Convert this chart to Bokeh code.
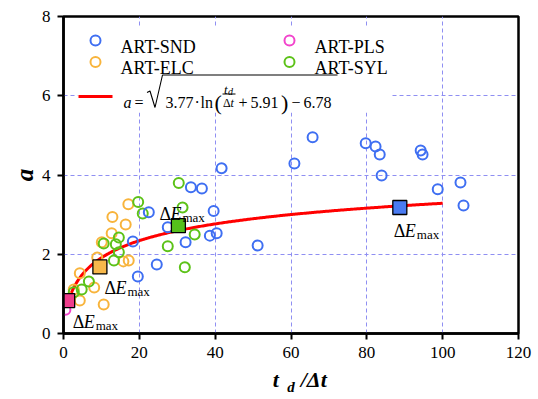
import numpy as np
from bokeh.plotting import figure
from bokeh.models import LinearAxis, FixedTicker
from bokeh.embed import file_html
from bokeh.resources import INLINE
from bokeh.core.properties import value

# ---------------- data ----------------
# ART-SND
snd_x = [65.7, 60.9, 79.7, 82.3, 83.4, 83.9, 94.2, 94.7, 98.7, 104.7, 105.5,
         41.7, 33.6, 36.5, 39.6, 38.6, 40.4, 32.2, 51.2, 22.5, 18.3, 27.5,
         24.6, 19.6]
snd_y = [4.95, 4.29, 4.80, 4.72, 4.52, 3.99, 4.62, 4.52, 3.64, 3.81, 3.23,
         4.17, 3.69, 3.66, 3.09, 2.47, 2.53, 2.30, 2.22, 3.06, 2.32, 2.68,
         1.74, 1.44]
# ART-PLS
pls_x = [0.5]
pls_y = [0.60]
# ART-ELC
elc_x = [17.1, 12.9, 16.4, 12.7, 10.1, 8.9, 17.2, 15.8, 4.3, 2.7, 8.1, 4.3, 10.6]
elc_y = [3.26, 2.94, 2.75, 2.53, 2.30, 1.92, 1.84, 1.82, 1.52, 1.11, 1.16, 0.83, 0.73]
# ART-SYL
syl_x = [30.4, 19.7, 20.9, 31.4, 14.6, 10.6, 13.8, 27.5, 34.6, 14.6, 13.3, 32.0, 6.7, 4.8, 2.7]
syl_y = [3.80, 3.32, 3.03, 3.18, 2.42, 2.27, 2.25, 2.20, 2.50, 2.05, 1.84, 1.67, 1.31, 1.11, 1.04]

# maximum-energy point of each series: PLS, ELC, SYL, SND
emax_x = [1.1, 9.6, 30.3, 88.7]
emax_y = [0.83, 1.68, 2.72, 3.18]

# fitted curve a = sqrt(3.77 ln(td/dt + 5.91) - 6.78)
fit_A, fit_B, fit_C = 3.77, 5.91, 6.78
fit_range = (1.0, 100.0)

x_ticks = [0, 20, 40, 60, 80, 100, 120]
y_ticks = [0, 2, 4, 6, 8]

# ---------------- style ----------------
FONT = "Liberation Serif"
C_SND, C_PLS, C_ELC, C_SYL = "#3f6ff2", "#f244cc", "#f8b43c", "#5cc218"
SQ_COLORS = ["#ee3d8c", "#f7b84b", "#55c01a", "#4a7bf2"]
GRID = "#8f8ff2"

FL, FT, FW, FH = 63, 16, 455, 317     # frame geometry in canvas pixels
XMAX, YMAX = 120, 8


def dx(px):
    return (px - FL) / FW * XMAX


def dy(py):
    return YMAX - (py - FT) / FH * YMAX


p = figure(frame_width=FW, frame_height=FH, x_range=(0, XMAX), y_range=(0, YMAX),
           output_backend="svg", toolbar_location=None,
           min_border_left=FL, min_border_right=538 - FL - FW,
           min_border_top=FT, min_border_bottom=399 - FT - FH)
p.background_fill_color = "white"
p.border_fill_color = "white"
p.outline_line_color = "black"
p.outline_line_width = 2.5

for ax, ticks in ((p.xaxis, x_ticks), (p.yaxis, y_ticks)):
    ax.ticker = ticks
    ax.axis_line_width = 2.5
    ax.axis_line_color = "black"
    ax.major_tick_line_width = 2
    ax.major_tick_line_color = "black"
    ax.major_tick_out = 6
    ax.major_tick_in = 0
    ax.minor_tick_line_color = None
    ax.major_label_text_font = FONT
    ax.major_label_text_font_size = "17px"
    ax.major_label_text_color = "black"
p.xaxis.major_label_standoff = 7
p.yaxis.major_label_standoff = 7

p.yaxis.axis_label = "a"
p.yaxis.axis_label_text_font = FONT
p.yaxis.axis_label_text_font_size = "25px"
p.yaxis.axis_label_text_font_style = "bold italic"
p.yaxis.axis_label_text_color = "black"
p.yaxis.axis_label_standoff = 1

# x title  t_d / Δt : main symbols as labels of a bare axis, subscript as its title
title_axis = LinearAxis(
    ticker=FixedTicker(ticks=[56, 66]),
    major_label_overrides={56: "t", 66: "/Δt"},
    axis_line_color=None, major_tick_line_color=None, minor_tick_line_color=None,
    major_tick_out=0, major_tick_in=0, major_label_standoff=6,
    major_label_text_font=FONT, major_label_text_font_size="22px",
    major_label_text_font_style="bold italic", major_label_text_color="black",
    axis_label="d", axis_label_text_font=FONT, axis_label_text_font_size="15px",
    axis_label_text_font_style="bold italic", axis_label_text_color="black",
    axis_label_standoff=-16)
p.add_layout(title_axis, "below")

p.xgrid.ticker = [t for t in x_ticks if 0 < t < XMAX]
p.ygrid.ticker = [t for t in y_ticks if 0 < t < YMAX]
for g in (p.xgrid, p.ygrid):
    g.grid_line_color = GRID
    g.grid_line_dash = "4 3"
    g.grid_line_width = 1

# legend background
p.quad(left=[dx(77)], right=[dx(390)], top=[dy(27)], bottom=[dy(112)],
       fill_color="white", line_color=None)

# fitted curve
xf = np.linspace(fit_range[0], fit_range[1], 300)
yf = np.sqrt(fit_A * np.log(xf + fit_B) - fit_C)
p.line(xf, yf, line_color="#ff0000", line_width=3)


def ring(xs, ys, c):
    p.scatter(xs, ys, marker="circle", size=10, fill_color=None,
              line_color=c, line_width=2)


ring(elc_x, elc_y, C_ELC)
ring(syl_x, syl_y, C_SYL)
ring(snd_x, snd_y, C_SND)
ring(pls_x, pls_y, C_PLS)

p.scatter(emax_x, emax_y, marker="square", size=14, fill_color=SQ_COLORS,
          line_color="black", line_width=1.3)


def txt(x, y, s, size, style="normal", xo=0, yo=0, align="left"):
    p.text(x=[x], y=[y], text=[s], x_offset=xo, y_offset=yo,
           text_font=value(FONT), text_font_size=f"{size}px",
           text_font_style=style, text_align=align,
           text_baseline="alphabetic", text_color="black")


# "ΔE_max" tags next to each maximum point (pixel offsets from the marker)
tag_offsets = [(5, 21), (4.5, 21), (-19, -12), (-6, 24)]
for (xo, yo), xm, ym in zip(tag_offsets, emax_x, emax_y):
    txt(xm, ym, "Δ", 18, xo=xo, yo=yo)
    txt(xm, ym, "E", 18, "italic", xo=xo + 11, yo=yo)
    txt(xm, ym, "max", 13, xo=xo + 23, yo=yo + 3.5)

# legend entries
legend_rows = [(95, 40, C_SND, "ART-SND"), (289, 40, C_PLS, "ART-PLS"),
               (95, 61.5, C_ELC, "ART-ELC"), (289, 61.5, C_SYL, "ART-SYL")]
for px_, py_, c, name in legend_rows:
    ring([dx(px_)], [dy(py_)], c)
    txt(dx(px_ + 25), dy(py_ + 6), name, 18)

p.line([dx(78), dx(112)], [dy(96)] * 2, line_color="#ff0000", line_width=3)

# fit equation
base = 101.5
txt(dx(123), dy(base), "a", 16, "italic")
txt(dx(134), dy(base), "=", 16)
p.line([dx(146.5), dx(149.5), dx(154.5), dx(162), dx(337)],
       [dy(92), dy(90.5), dy(107), dy(74.5), dy(74.5)],
       line_color="black", line_width=1.1)
txt(dx(165), dy(base), "3.77", 16)
txt(dx(194), dy(base), "·", 16)
txt(dx(200), dy(base), "ln", 16)
txt(dx(214), dy(base), "(", 22)
txt(dx(223.5), dy(88.5), "t", 13, "italic")
txt(dx(227.5), dy(91), "d", 10, "italic")
p.line([dx(222), dx(235)], [dy(93.5)] * 2, line_color="black", line_width=1)
txt(dx(222.5), dy(102), "Δ", 12)
txt(dx(230), dy(102), "t", 12, "italic")
txt(dx(238), dy(base), "+", 16)
txt(dx(250), dy(base), "5.91", 16)
txt(dx(280.5), dy(base), ")", 22)
txt(dx(291), dy(base), "−", 16)
txt(dx(303), dy(base), "6.78", 16)

open("out.html", "w").write(file_html(p, INLINE))
